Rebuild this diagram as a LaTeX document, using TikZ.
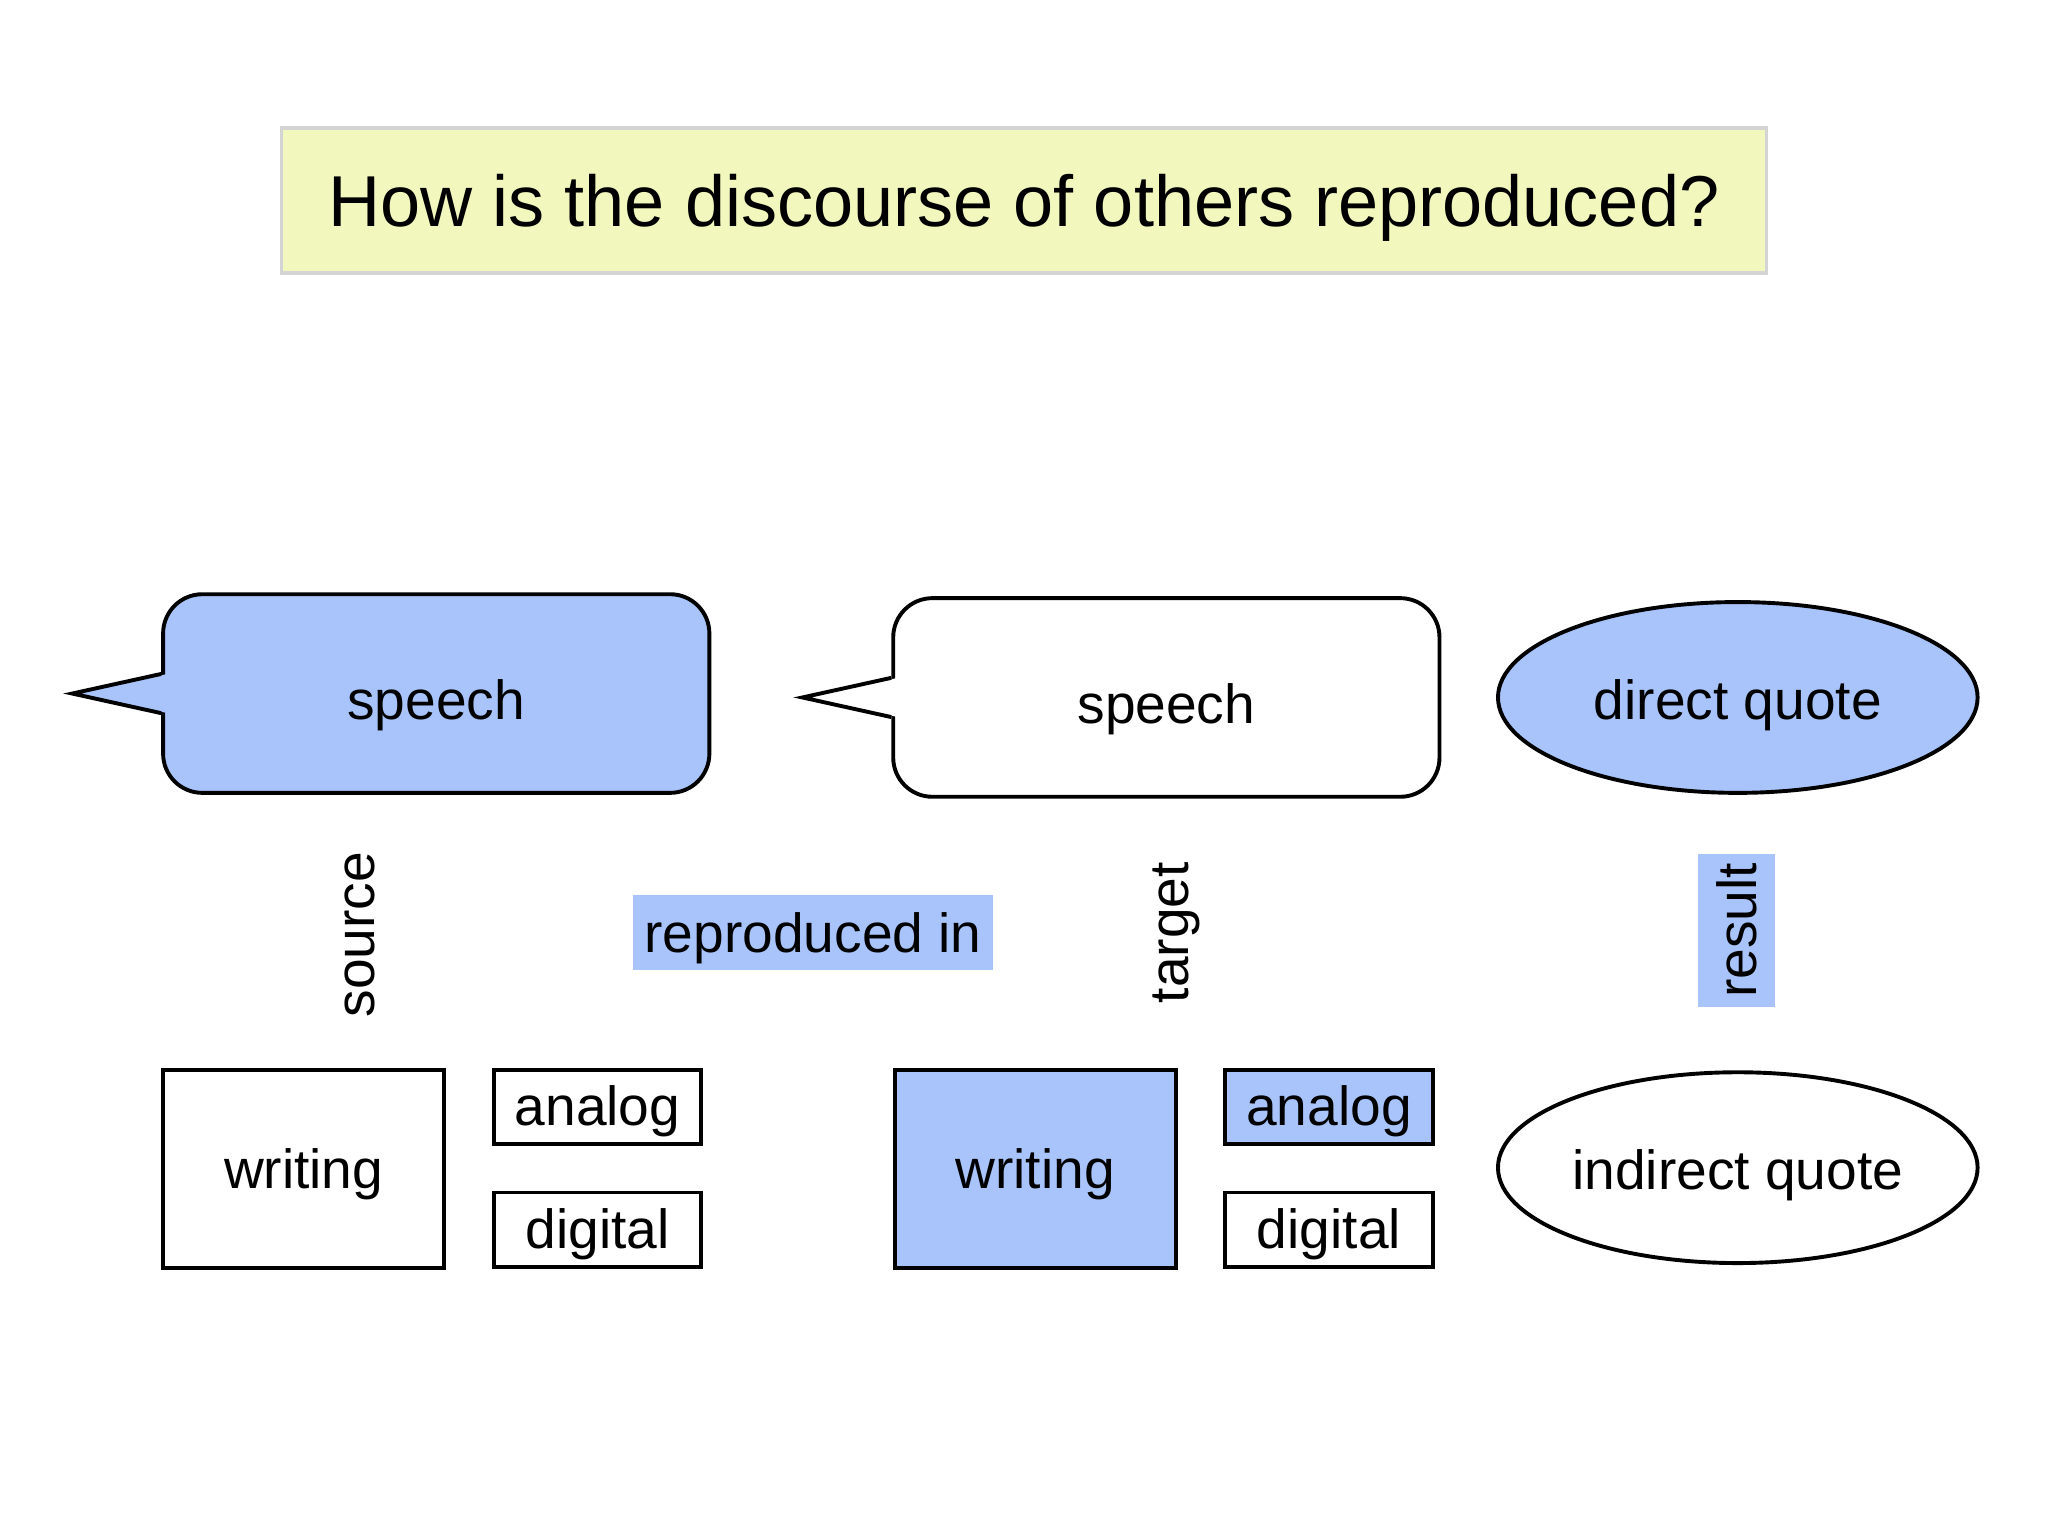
\documentclass[tikz,border=0pt]{standalone}
\usepackage{fontspec}
\setmainfont{Liberation Sans}
\usetikzlibrary{shapes.geometric}
\definecolor{qblue}{HTML}{A9C4FB}
\definecolor{qyellow}{HTML}{F2F7BD}
\definecolor{qgray}{HTML}{D4D4D4}
\tikzset{
  lbl/.style={font=\fontsize{12}{14}\selectfont, inner sep=0pt, text height=0pt, text depth=0pt},
  bubblebox/.style={draw=black, line width=0.85pt, rounded corners=0.3cm, minimum width=4.18cm, minimum height=1.52cm, inner sep=0pt, font=\fontsize{12}{14}\selectfont, text height=0.40cm, text depth=0pt},
  quote/.style={ellipse, draw=black, line width=0.85pt, minimum width=3.67cm, minimum height=1.46cm, inner sep=0pt, font=\fontsize{12}{14}\selectfont, text height=0.33cm, text depth=0pt},
  bigbox/.style={draw=black, line width=0.85pt, minimum width=2.15cm, minimum height=1.52cm, inner sep=0pt, font=\fontsize{12}{14}\selectfont, text height=0.30cm, text depth=0pt},
  smallbox/.style={draw=black, line width=0.85pt, minimum width=1.59cm, minimum height=0.57cm, inner sep=0pt, font=\fontsize{12}{14}\selectfont, text height=0.29cm, text depth=0pt},
  tagbox/.style={fill=qblue, inner sep=0pt, font=\fontsize{12}{14}\selectfont, text height=0.30cm, text depth=0pt},
  tail/.style={line width=0.85pt, line join=miter},
}
\begin{document}
\begin{tikzpicture}[x=0.01cm, y=-0.01cm]
\useasboundingbox (0,0) rectangle (1568,1176);
% title
\node[draw=qgray, fill=qyellow, line width=0.72pt, minimum width=11.36cm, minimum height=1.11cm, inner sep=0pt, font=\fontsize{15.7}{18}\selectfont, text height=0.40cm, text depth=0pt] (title) at (784,153.5) {How is the discourse of others reproduced?};
% speech bubbles
\node[bubblebox, fill=qblue] (sp1) at (334,531) {speech};
\fill[qblue] ([yshift=-0.15cm, xshift=0.05cm]sp1.west) -- ([xshift=-0.68cm]sp1.west) -- ([yshift=0.15cm, xshift=0.05cm]sp1.west) -- cycle;
\draw[tail] ([yshift=0.15cm]sp1.west) -- ([xshift=-0.68cm]sp1.west) -- ([yshift=-0.15cm]sp1.west);
\node[bubblebox, fill=white] (sp2) at (893,534) {speech};
\fill[white] ([yshift=-0.15cm, xshift=0.05cm]sp2.west) -- ([xshift=-0.68cm]sp2.west) -- ([yshift=0.15cm, xshift=0.05cm]sp2.west) -- cycle;
\draw[tail] ([yshift=0.15cm]sp2.west) -- ([xshift=-0.68cm]sp2.west) -- ([yshift=-0.15cm]sp2.west);
% quotes
\node[quote, fill=qblue] (dq) at (1330.5,534) {direct quote};
\node[quote, fill=white] (iq) at (1330.5,894) {indirect quote};
% middle labels
\node[lbl, rotate=90] (source) at (287,715.5) {source};
\node[tagbox, minimum width=2.75cm, minimum height=0.58cm] (repin) at (622.5,714) {reproduced in};
\node[lbl, rotate=90] (target) at (910,714) {target};
\node[tagbox, rotate=90, minimum width=1.17cm, minimum height=0.59cm] (result) at (1329.5,712.5) {result};
% bottom boxes
\node[bigbox, fill=white] (w1) at (232.5,895) {writing};
\node[smallbox, fill=white] (a1) at (457.5,847.5) {analog};
\node[smallbox, fill=white] (d1) at (457.5,941.5) {digital};
\node[bigbox, fill=qblue] (w2) at (792.5,895) {writing};
\node[smallbox, fill=qblue] (a2) at (1017.5,847.5) {analog};
\node[smallbox, fill=white] (d2) at (1017.5,941.5) {digital};
\end{tikzpicture}
\end{document}
